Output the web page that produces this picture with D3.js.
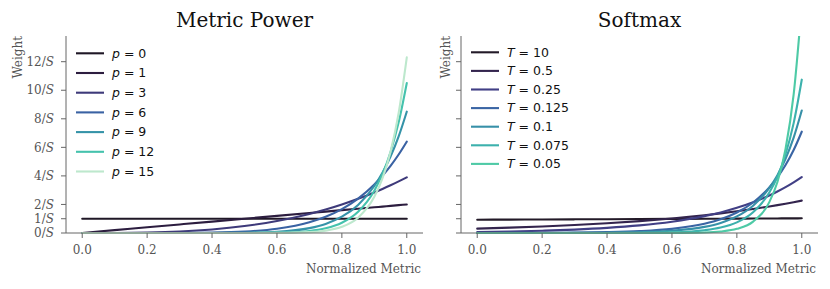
<!DOCTYPE html>
<html>
<head>
<meta charset="utf-8">
<script src="https://cdn.jsdelivr.net/npm/d3@7"></script>
<style>
  body { margin: 0; background: #fff; }
  svg { display: block; }
  .tick-label { font-family: "DejaVu Serif", serif; font-size: 12px; fill: #555; }
  .axis-label { font-family: "DejaVu Serif", serif; font-size: 12px; fill: #555; }
  .title { font-family: "DejaVu Serif", serif; font-size: 20px; fill: #111; }
  .legend-text { font-family: "DejaVu Sans", sans-serif; font-size: 12.5px; fill: #111; }
</style>
</head>
<body>
<svg id="chart" width="830" height="289"></svg>
<script>
// shared x samples (normalized metric)
const xs = [0, 0.1, 0.2, 0.3, 0.4, 0.5, 0.6, 0.7, 0.75, 0.8, 0.85, 0.9, 0.925, 0.95, 0.975, 1];

// Metric Power panel, weight in units of 1/S
const powerLabels = ["0", "1", "3", "6", "9", "12", "15"];
const powerColors = ["#1f1726", "#2c1d3f", "#3e3a7a", "#3a62a3", "#3593a8", "#45c2ad", "#bde8cd"];
const p0 = [1, 1, 1, 1, 1, 1, 1, 1, 1, 1, 1, 1, 1, 1, 1, 1];
const p1 = [0, 0.2, 0.4, 0.6, 0.8, 1.0, 1.2, 1.4, 1.5, 1.6, 1.7, 1.8, 1.85, 1.9, 1.95, 2.0];
const p3 = [0, 0.004, 0.031, 0.105, 0.25, 0.488, 0.842, 1.338, 1.645, 1.997, 2.395, 2.843, 3.087, 3.344, 3.615, 3.9];
const p6 = [0, 0, 0.0004, 0.0047, 0.026, 0.1, 0.299, 0.753, 1.139, 1.678, 2.414, 3.401, 4.012, 4.705, 5.498, 6.4];
const p9 = [0, 0, 0, 0.0002, 0.0022, 0.0166, 0.0857, 0.343, 0.638, 1.141, 1.969, 3.293, 4.214, 5.357, 6.768, 8.5];
const p12 = [0, 0, 0, 0, 0.0002, 0.0026, 0.0229, 0.1453, 0.3326, 0.7215, 1.4935, 2.9655, 4.12, 5.674, 7.749, 10.5];
const p15 = [0, 0, 0, 0, 0, 0.0004, 0.0058, 0.0584, 0.1644, 0.4328, 1.0745, 2.5325, 3.82, 5.698, 8.413, 12.3];

// Softmax panel
const tempLabels = ["10", "0.5", "0.25", "0.125", "0.1", "0.075", "0.05"];
const tempColors = ["#231a28", "#33244d", "#413f85", "#3a65a4", "#3790a8", "#3cb1ad", "#4ecaa6"];
const t10 = [0.93, 0.939, 0.949, 0.958, 0.968, 0.978, 0.988, 0.997, 1.002, 1.007, 1.013, 1.018, 1.02, 1.023, 1.025, 1.028];
const t05 = [0.307, 0.375, 0.458, 0.56, 0.684, 0.835, 1.02, 1.246, 1.377, 1.522, 1.682, 1.859, 1.954, 2.054, 2.159, 2.27];
const t025 = [0.072, 0.107, 0.16, 0.238, 0.356, 0.531, 0.791, 1.181, 1.442, 1.761, 2.151, 2.628, 2.904, 3.209, 3.547, 3.92];
const t0125 = [0.0024, 0.0053, 0.0118, 0.0263, 0.0584, 0.13, 0.289, 0.644, 0.961, 1.433, 2.138, 3.19, 3.897, 4.759, 5.813, 7.1];
const t01 = [0.0004, 0.0011, 0.0029, 0.0078, 0.0213, 0.0578, 0.157, 0.427, 0.704, 1.161, 1.914, 3.156, 4.053, 5.204, 6.682, 8.58];
const t0075 = [0, 0.0001, 0.0003, 0.0009, 0.0036, 0.0137, 0.0519, 0.197, 0.383, 0.746, 1.453, 2.831, 3.951, 5.514, 7.696, 10.74];
const t005 = [0, 0, 0, 0, 0, 0.0007, 0.0054, 0.0397, 0.108, 0.293, 0.797, 2.165, 3.57, 5.886, 9.704, 16];

const yTicks = [0, 1, 2, 4, 6, 8, 10, 12];
const xTicks = [0, 0.2, 0.4, 0.6, 0.8, 1.0];

const svg = d3.select("#chart");
const plotTop = 36, plotBottom = 233;
const axisColor = "#666";

function drawPanel(opts) {
  const x = d3.scaleLinear().domain([-0.05, 1.05]).range([opts.left, opts.right]);
  const y = d3.scaleLinear().domain([0, 13.8]).range([plotBottom, plotTop]);
  const g = svg.append("g");

  g.append("clipPath").attr("id", opts.id)
    .append("rect").attr("x", opts.left).attr("y", plotTop)
    .attr("width", opts.right - opts.left).attr("height", plotBottom - plotTop + 2);

  const line = d3.line().x((d, i) => x(xs[i])).y(d => y(d)).curve(d3.curveMonotoneX);
  g.append("g").attr("clip-path", "url(#" + opts.id + ")")
    .selectAll("path").data(opts.series).join("path")
    .attr("d", line)
    .attr("fill", "none")
    .attr("stroke", (d, i) => opts.colors[i])
    .attr("stroke-width", 2.1)
    .attr("stroke-linecap", "round");

  // spines
  g.append("line").attr("x1", opts.left).attr("x2", opts.left).attr("y1", plotTop).attr("y2", plotBottom)
    .attr("stroke", axisColor).attr("stroke-width", 1);
  g.append("line").attr("x1", opts.left).attr("x2", opts.right).attr("y1", plotBottom).attr("y2", plotBottom)
    .attr("stroke", axisColor).attr("stroke-width", 1);

  // y ticks
  const yt = g.selectAll(".ytick").data(yTicks).join("g")
    .attr("transform", d => `translate(${opts.left},${y(d)})`);
  yt.append("line").attr("x1", -5).attr("x2", 0).attr("stroke", axisColor);
  if (opts.yLabels) {
    const t = yt.append("text").attr("class", "tick-label")
      .attr("x", -12).attr("dy", "0.35em").attr("text-anchor", "end");
    t.append("tspan").text(d => d + "/");
    t.append("tspan").attr("font-style", "italic").text("S");
  }

  // x ticks
  const xt = g.selectAll(".xtick").data(xTicks).join("g")
    .attr("transform", d => `translate(${x(d)},${plotBottom})`);
  xt.append("line").attr("y1", 0).attr("y2", 5).attr("stroke", axisColor);
  xt.append("text").attr("class", "tick-label").attr("y", 21)
    .attr("text-anchor", "middle").text(d => d.toFixed(1));

  // axis labels
  g.append("text").attr("class", "axis-label")
    .attr("transform", `translate(${opts.left - opts.yLabelOff},${plotTop}) rotate(-90)`)
    .attr("text-anchor", "end").text("Weight");
  g.append("text").attr("class", "axis-label")
    .attr("x", opts.right - 2).attr("y", 273).attr("text-anchor", "end").text("Normalized Metric");

  // title
  g.append("text").attr("class", "title")
    .attr("x", (opts.left + opts.right) / 2).attr("y", 27)
    .attr("text-anchor", "middle").text(opts.title);

  // legend
  const lg = g.selectAll(".leg").data(opts.labels).join("g")
    .attr("transform", (d, i) => `translate(${opts.legX},${opts.legY + i * opts.legStep})`);
  lg.append("line").attr("x1", 0).attr("x2", 28)
    .attr("stroke", (d, i) => opts.colors[i]).attr("stroke-width", 2.1);
  const lt = lg.append("text").attr("class", "legend-text").attr("x", 36).attr("dy", "0.35em");
  lt.append("tspan").attr("font-style", "italic").text(opts.sym);
  lt.append("tspan").text(d => " = " + d);
}

drawPanel({
  id: "clipL", left: 66, right: 423, title: "Metric Power", yLabels: true, yLabelOff: 44,
  series: [p0, p1, p3, p6, p9, p12, p15], colors: powerColors, labels: powerLabels, sym: "p",
  legX: 76, legY: 53.3, legStep: 19.7
});
drawPanel({
  id: "clipR", left: 461, right: 818, title: "Softmax", yLabels: false, yLabelOff: 11,
  series: [t10, t05, t025, t0125, t01, t0075, t005], colors: tempColors, labels: tempLabels, sym: "T",
  legX: 471, legY: 52.3, legStep: 18.6
});
</script>
</body>
</html>
